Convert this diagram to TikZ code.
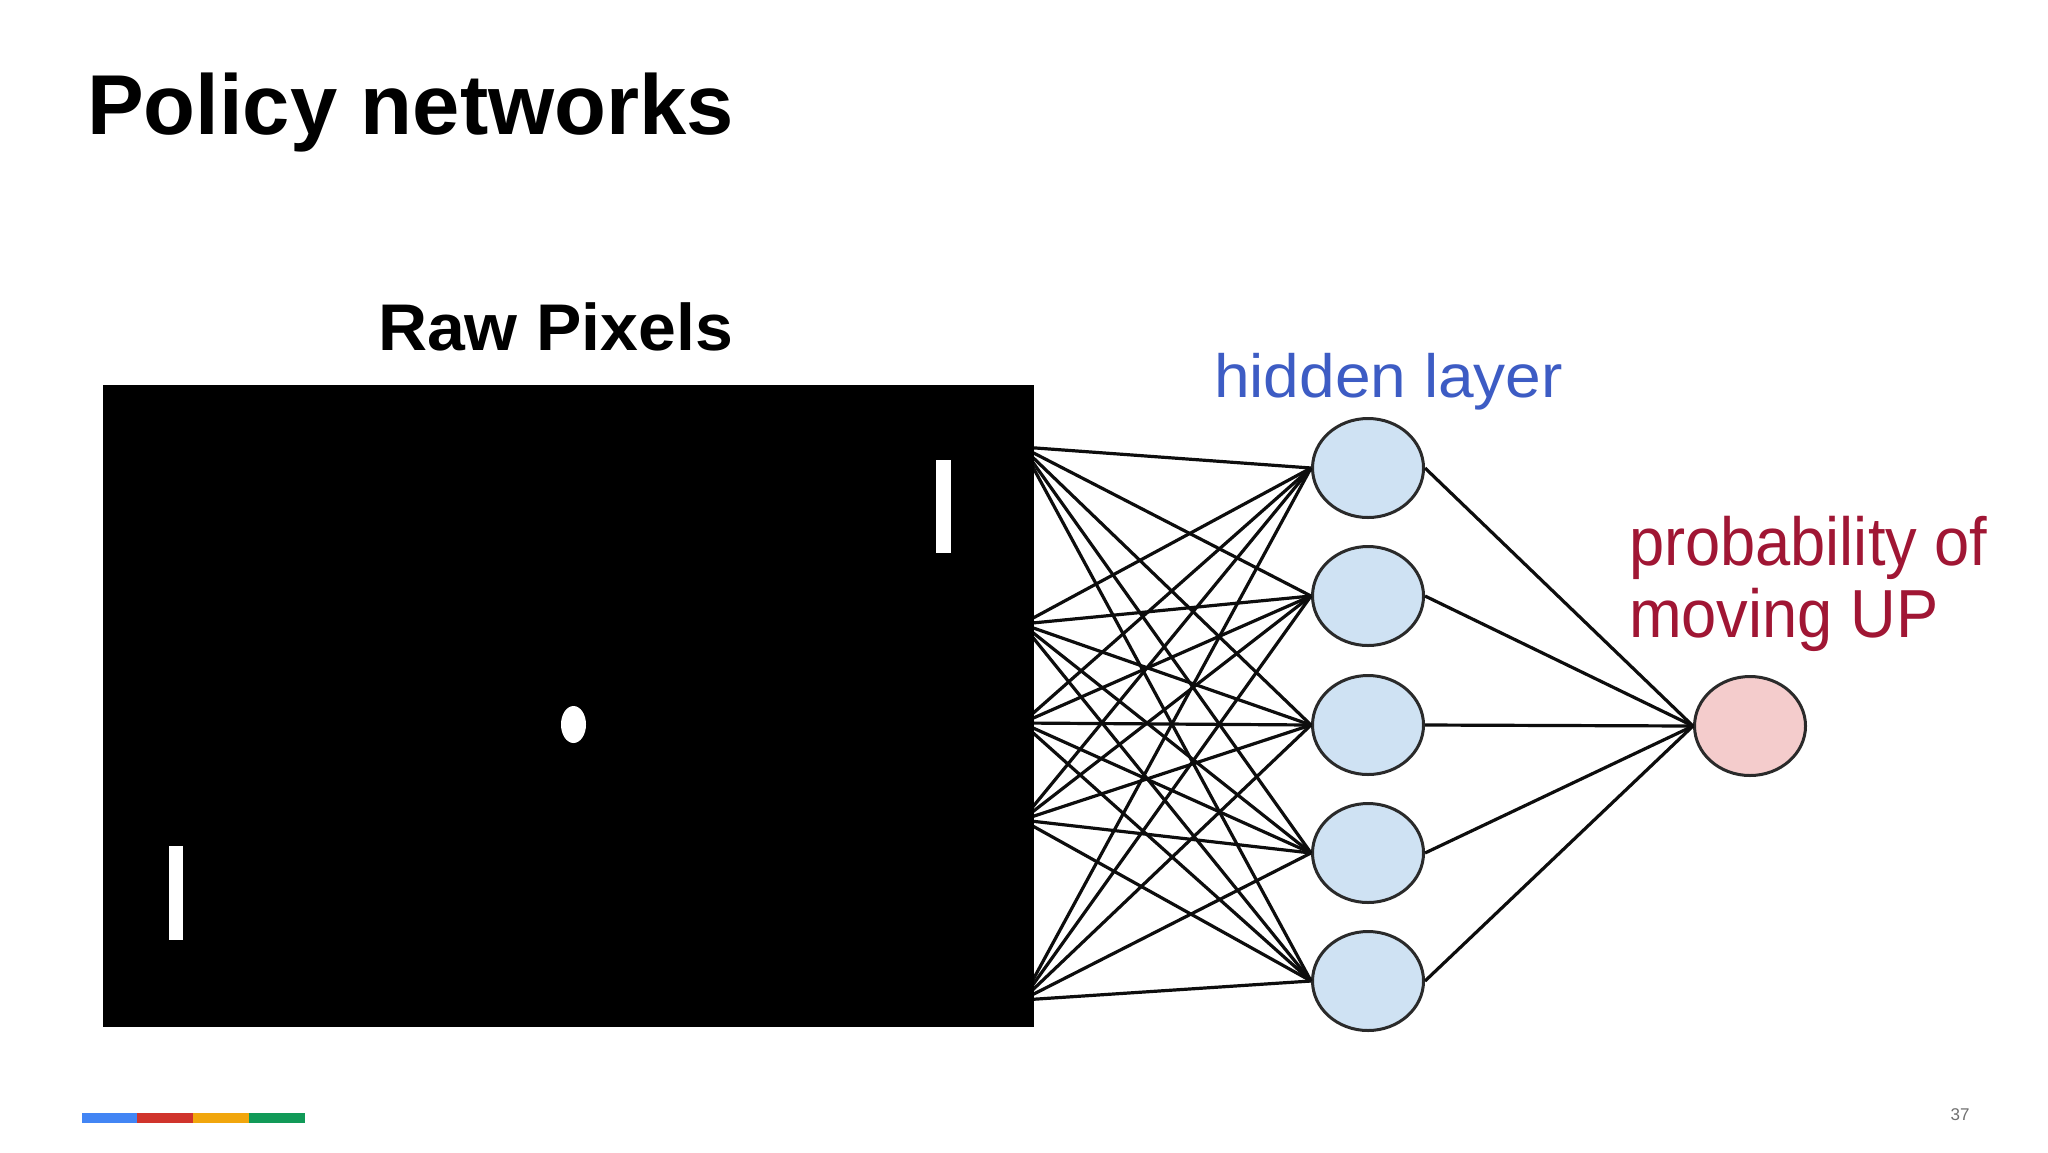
\documentclass[tikz,border=0pt]{standalone}
\usepackage{fontspec}
\usepackage{graphicx}
\setmainfont{Liberation Sans}
\usetikzlibrary{shapes.geometric}
\definecolor{hidfill}{HTML}{CFE2F3}
\definecolor{outfill}{HTML}{F4CCCC}
\definecolor{nodeline}{HTML}{2A2A2A}
\definecolor{hidtext}{RGB}{61,92,196}
\definecolor{outtext}{RGB}{160,22,52}
\definecolor{gblue}{HTML}{4285F4}
\definecolor{gred}{HTML}{D0342C}
\definecolor{gyellow}{HTML}{F1A60D}
\definecolor{ggreen}{HTML}{119A58}
\definecolor{pagenum}{HTML}{707070}
\begin{document}
\begin{tikzpicture}[x=0.5pt,y=-0.5pt,
  txt/.style={anchor=base west, inner sep=0pt, outer sep=0pt},
  hid/.style={ellipse, draw=nodeline, line width=1.5pt, fill=hidfill,
    minimum width=55.5pt, minimum height=49.5pt, inner sep=0pt},
  outn/.style={ellipse, draw=nodeline, line width=1.5pt, fill=outfill,
    minimum width=55.5pt, minimum height=49.5pt, inner sep=0pt},
  conn/.style={draw=black!95, line width=1.6pt},
  screenbox/.style={rectangle, fill=black, draw=none, inner sep=0pt,
    minimum width=465.5pt, minimum height=321pt},
  paddle/.style={rectangle, fill=white, draw=none, inner sep=0pt}]
\fill[white] (0,0) rectangle (2048,1152);
\useasboundingbox (0,0) rectangle (2048,1152);

% titles
\node[txt, font=\fontsize{42.5pt}{50pt}\selectfont\bfseries] (title) at (87,134) {Policy networks};
\node[txt, font=\fontsize{33pt}{39pt}\selectfont\bfseries] (raw) at (378,350) {\scalebox{1.03}[1]{Raw Pixels}};
\node[txt, text=hidtext, font=\fontsize{30.5pt}{36pt}\selectfont] (hidlabel) at (1214,397) {\scalebox{1.05}[1]{hidden layer}};
\node[txt, text=outtext, font=\fontsize{34pt}{40pt}\selectfont] (prob1) at (1629,565) {\scalebox{0.93}[1]{probability of}};
\node[txt, text=outtext, font=\fontsize{34pt}{40pt}\selectfont] (prob2) at (1629,637) {\scalebox{0.93}[1]{moving UP}};

% input points (hidden behind the screen)
\coordinate (i1) at (1022,447);
\coordinate (i2) at (1022,624);
\coordinate (i3) at (1022,723);
\coordinate (i4) at (1022,820);
\coordinate (i5) at (1022,1000);

% hidden and output nodes
\node[hid] (h1) at (1368,468) {};
\node[hid] (h2) at (1368,596) {};
\node[hid] (h3) at (1368,725) {};
\node[hid] (h4) at (1368,853) {};
\node[hid] (h5) at (1368,981) {};
\node[outn] (o) at (1750,726) {};

% connections
\foreach \i in {1,...,5}{
  \foreach \j in {1,...,5}{
    \draw[conn] (i\i) -- (h\j.west);
  }
}
\foreach \j in {1,...,5}{
  \draw[conn] (h\j.east) -- (o.west);
}

% pong screen
\node[screenbox] (screen) at (568.5,706) {};
\node[paddle, minimum width=7.5pt, minimum height=46.5pt] (padr) at (943.5,506.5) {};
\node[paddle, minimum width=7pt, minimum height=47pt] (padl) at (176,893) {};
\node[ellipse, fill=white, draw=none, inner sep=0pt, minimum width=12.5pt, minimum height=18.5pt] (ball) at (573.5,724.5) {};

% footer
\fill[gblue] (82,1113) rectangle (137,1123);
\fill[gred] (137,1113) rectangle (193,1123);
\fill[gyellow] (193,1113) rectangle (249,1123);
\fill[ggreen] (249,1113) rectangle (305,1123);
\node[anchor=base, inner sep=0pt, text=pagenum, font=\fontsize{8.5pt}{10pt}\selectfont] (pnum) at (1960,1120) {37};
\end{tikzpicture}
\end{document}
